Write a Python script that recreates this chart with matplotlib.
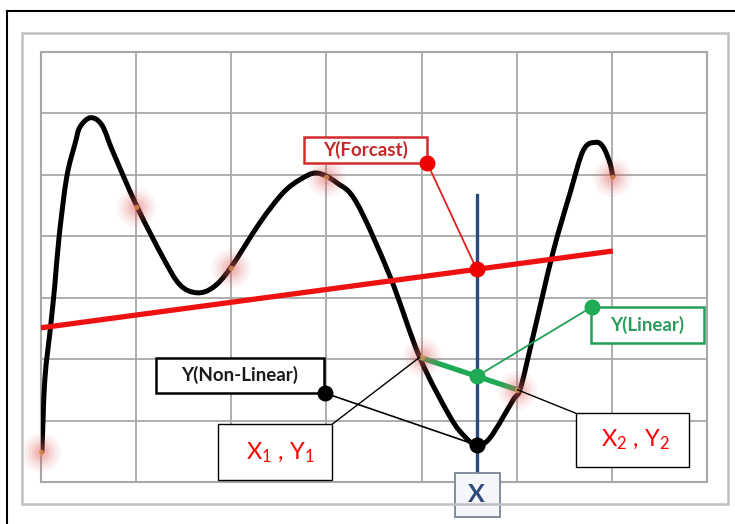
import matplotlib
matplotlib.use("Agg")
import matplotlib.pyplot as plt
import numpy as np
from matplotlib.patches import Rectangle, PathPatch
from matplotlib.path import Path
from matplotlib.lines import Line2D

plt.rcParams['font.family'] = ['Lato', 'DejaVu Sans']
plt.rcParams['mathtext.fontset'] = 'custom'
plt.rcParams['mathtext.rm'] = 'Lato'
plt.rcParams['mathtext.default'] = 'regular'

# ---- data (grid units: 7 x 7 cells) ----
curve_x = [0.01, 0.04, 0.10, 0.145, 0.19, 0.27, 0.36, 0.41, 0.52, 0.64, 0.76, 1.01, 1.28,
           1.46, 1.64, 1.81, 1.99, 2.30, 2.54, 2.72, 2.90, 3.11, 3.32, 3.67, 3.98, 4.30,
           4.46, 4.58, 4.72, 4.96, 5.04, 5.17, 5.38, 5.56, 5.70, 5.83, 5.91, 5.98, 6.01]
curve_y = [0.49, 1.66, 2.52, 3.20, 3.99, 4.96, 5.52, 5.78, 5.93, 5.81, 5.36, 4.48, 3.66,
           3.21, 3.08, 3.17, 3.48, 4.22, 4.70, 4.92, 5.03, 4.87, 4.54, 3.34, 2.03, 1.06,
           0.73, 0.60, 0.72, 1.33, 1.53, 2.36, 3.73, 4.70, 5.40, 5.53, 5.45, 5.19, 4.97]
glow_x = [0, 1, 2, 3, 4, 5, 6]
glow_y = [0.49, 4.48, 3.48, 4.97, 2.03, 1.50, 4.97]
trend_x = [0.0, 6.01]
trend_y = [2.51, 3.76]
x_query = 4.58
forecast_y = 3.46
linear_y = 1.72
nonlinear_y = 0.60
seg_x = [3.98, 5.01]
seg_y = [2.03, 1.50]
label_forecast = "Y(Forcast)"
label_linear = "Y(Linear)"
label_nonlinear = "Y(Non-Linear)"
label_p1 = r"X$_1$ , Y$_1$"
label_p2 = r"X$_2$ , Y$_2$"
label_x = "X"

W, H = 735, 524
fig = plt.figure(figsize=(W / 100, H / 100), dpi=100)
fig.patch.set_facecolor('white')

def fx(px): return px / W
def fy(py): return 1 - py / H

fig.add_artist(Line2D([fx(7), 1.0], [fy(11), fy(11)], color='black', lw=1.5))
fig.add_artist(Line2D([fx(7), fx(7)], [fy(11), 0.0], color='black', lw=1.5))
fig.add_artist(Rectangle((fx(22), fy(504)), fx(728) - fx(22), fy(33) - fy(504),
                         fill=False, edgecolor='#C0C0C0', lw=1.8))

ax = fig.add_axes([fx(41), fy(482), fx(707) - fx(41), fy(52) - fy(482)])
ax.set_xlim(0, 7)
ax.set_ylim(0, 7)
ax.set_xticks(range(8))
ax.set_yticks(range(8))
ax.tick_params(length=0, labelbottom=False, labelleft=False)
ax.grid(True, color='#A8A8A8', lw=1.3)
for s in ax.spines.values():
    s.set_color('#A8A8A8')
    s.set_linewidth(1.5)

# vertical X line
ax.plot([x_query, x_query], [0.15, 4.67], color='#2E4A78', lw=2.4, zorder=2, clip_on=False)

# black curve: smooth Bezier path through the read points (Catmull-Rom control points)
P = np.column_stack([curve_x, curve_y])
verts = [tuple(P[0])]
codes = [Path.MOVETO]
n = len(P)
for i in range(n - 1):
    p0 = P[i - 1] if i > 0 else P[i]
    p1 = P[i]
    p2 = P[i + 1]
    p3 = P[i + 2] if i + 2 < n else P[i + 1]
    c1 = p1 + (p2 - p0) / 6.0
    c2 = p2 - (p3 - p1) / 6.0
    verts += [tuple(c1), tuple(c2), tuple(p2)]
    codes += [Path.CURVE4, Path.CURVE4, Path.CURVE4]
ax.add_patch(PathPatch(Path(verts, codes), facecolor='none', edgecolor='black', lw=3.6,
                       joinstyle='round', capstyle='round', zorder=3))

# red trend line
ax.plot(trend_x, trend_y, color='#EE1111', lw=3.8, zorder=4, solid_capstyle='butt')

# green linear segment
ax.plot(seg_x, seg_y, color='#1FAA55', lw=3.8, zorder=4, solid_capstyle='butt')

# glows
for s_, a_ in [(800, 0.06), (540, 0.08), (340, 0.10), (190, 0.13), (90, 0.15)]:
    ax.scatter(glow_x, glow_y, s=s_, color='#E06060', alpha=a_, lw=0, zorder=5, clip_on=False)
ax.scatter(glow_x, glow_y, s=16, color='#E09050', alpha=0.8, lw=0, zorder=5, clip_on=False)

# callouts: forecast
ax.plot([4.06, x_query], [5.19, forecast_y], color='#E02020', lw=1.3, zorder=6)
ax.scatter([4.06, x_query], [5.19, forecast_y], s=110, color='#F00000', zorder=7)
ax.add_patch(Rectangle((2.76, 5.19), 4.06 - 2.76, 5.61 - 5.19, fill=True, facecolor='white',
                       edgecolor='#D42A2A', lw=1.8, zorder=6))
ax.text((2.76 + 4.06) / 2, 5.40, label_forecast, color='#C42828', fontsize=13.5,
        fontweight='bold', ha='center', va='center', zorder=8)

# callouts: linear
ax.plot([5.79, x_query], [2.85, linear_y], color='#22A05A', lw=1.3, zorder=6)
ax.scatter([5.79, x_query], [2.85, linear_y], s=110, color='#1FAA55', zorder=7)
ax.add_patch(Rectangle((5.78, 2.26), 6.97 - 5.78, 2.85 - 2.26, fill=True, facecolor='white',
                       edgecolor='#22A05A', lw=1.8, zorder=6))
ax.text((5.78 + 6.97) / 2, 2.555, label_linear, color='#2E9A5E', fontsize=13.5,
        fontweight='bold', ha='center', va='center', zorder=8)

# callouts: non-linear
ax.plot([2.98, x_query], [1.45, nonlinear_y], color='black', lw=1.2, zorder=6)
ax.scatter([2.98, x_query], [1.45, nonlinear_y], s=110, color='black', zorder=7)
ax.add_patch(Rectangle((1.21, 1.45), 2.97 - 1.21, 2.02 - 1.45, fill=True, facecolor='white',
                       edgecolor='black', lw=1.8, zorder=6))
ax.text((1.21 + 2.97) / 2, 1.735, label_nonlinear, color='#1A1A1A', fontsize=13.5,
        fontweight='bold', ha='center', va='center', zorder=8)

# point boxes
ax.plot([3.06, seg_x[0]], [0.94, seg_y[0]], color='black', lw=1.0, zorder=6)
ax.add_patch(Rectangle((1.86, 0.03), 3.06 - 1.86, 0.94 - 0.03, facecolor='white',
                       edgecolor='black', lw=1.0, zorder=6, clip_on=False))
ax.text(2.52, 0.47, label_p1, color='#FF0000', fontsize=17, ha='center', va='center', zorder=8)

ax.plot([5.62, seg_x[1]], [1.12, seg_y[1]], color='black', lw=1.0, zorder=6)
ax.add_patch(Rectangle((5.62, 0.24), 6.81 - 5.62, 1.12 - 0.24, facecolor='white',
                       edgecolor='black', lw=1.0, zorder=6, clip_on=False))
ax.text(6.25, 0.68, label_p2, color='#FF0000', fontsize=17, ha='center', va='center', zorder=8)

# X box
ax.add_patch(Rectangle((4.35, -0.57), 4.82 - 4.35, 0.15 + 0.57, facecolor='#F4F6F9',
                       edgecolor='#7A8494', lw=1.3, zorder=6, clip_on=False))
ax.text(x_query, -0.21, label_x, color='#2E4A78', fontsize=18, fontweight='bold',
        ha='center', va='center', zorder=8, clip_on=False)

fig.savefig('out.png', dpi=100, facecolor='white')
